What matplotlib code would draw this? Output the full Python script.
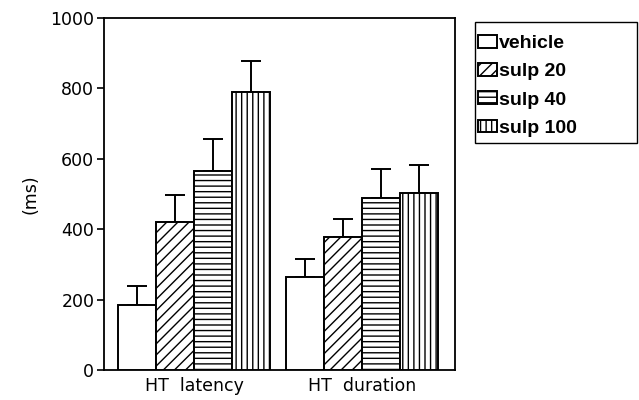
"""
HT latency / duration bar chart (vehicle vs sulpiride doses)
"""
import matplotlib
matplotlib.use('Agg')
import matplotlib.pyplot as plt
from matplotlib.patches import Rectangle
import numpy as np

# data
groups = ['HT  latency', 'HT  duration']
series = ['vehicle', 'sulp 20', 'sulp 40', 'sulp 100']
means = {
    'vehicle':  [185, 264],
    'sulp 20':  [420, 378],
    'sulp 40':  [565, 489],
    'sulp 100': [790, 503],
}
errors = {
    'vehicle':  [54, 51],
    'sulp 20':  [77, 51],
    'sulp 40':  [91, 82],
    'sulp 100': [88, 79],
}
hatches = ['', '///', '---', '|||']

plt.rcParams['hatch.linewidth'] = 1.0
plt.rcParams['font.family'] = 'DejaVu Sans'

fig = plt.figure(figsize=(6.39, 4.0), dpi=100)
ax = fig.add_axes([104 / 639, 30 / 400, 351 / 639, 352 / 400])

group_x = np.array([2.37, 6.79])
width = 1.0
handles = []
for i, name in enumerate(series):
    xs = group_x + (i - 1.5) * width
    bars = ax.bar(xs, means[name], width=width, color='white', edgecolor='black',
                  linewidth=1.4, hatch=hatches[i], label=name, zorder=3)
    handles.append(bars)
    err = np.array(errors[name])
    ax.errorbar(xs, means[name], yerr=[np.zeros_like(err), err], fmt='none',
                ecolor='black', elinewidth=1.4, capsize=7.5, capthick=1.4, zorder=2)

ax.set_xlim(0, 351 / 38)
ax.set_ylim(0, 1000)
ax.set_yticks([0, 200, 400, 600, 800, 1000])
ax.tick_params(axis='y', direction='out', length=5, width=1.2, labelsize=12.5, pad=2)
ax.set_xticks(group_x)
ax.set_xticklabels(groups, fontsize=12.5)
ax.tick_params(axis='x', length=0, pad=5)
for s in ax.spines.values():
    s.set_linewidth(1.3)
ax.set_ylabel('(ms)', fontsize=12.5, labelpad=8)

# legend: entries without frame, box drawn separately to match its size
leg = fig.legend(handles=handles, labels=series, loc='upper left',
                 bbox_to_anchor=(474 / 639, 1 - 31 / 400), borderaxespad=0,
                 frameon=False,
                 prop={'family': 'Liberation Sans', 'size': 14, 'weight': 'bold'},
                 handlelength=1.0, handleheight=0.65, handletextpad=0.1,
                 labelspacing=0.56, borderpad=0.2)
fig.patches.append(Rectangle((475 / 639, 1 - 143 / 400), 162 / 639, 121 / 400,
                             transform=fig.transFigure, fill=False,
                             edgecolor='black', linewidth=1.0))

fig.savefig('out.png', dpi=100)
